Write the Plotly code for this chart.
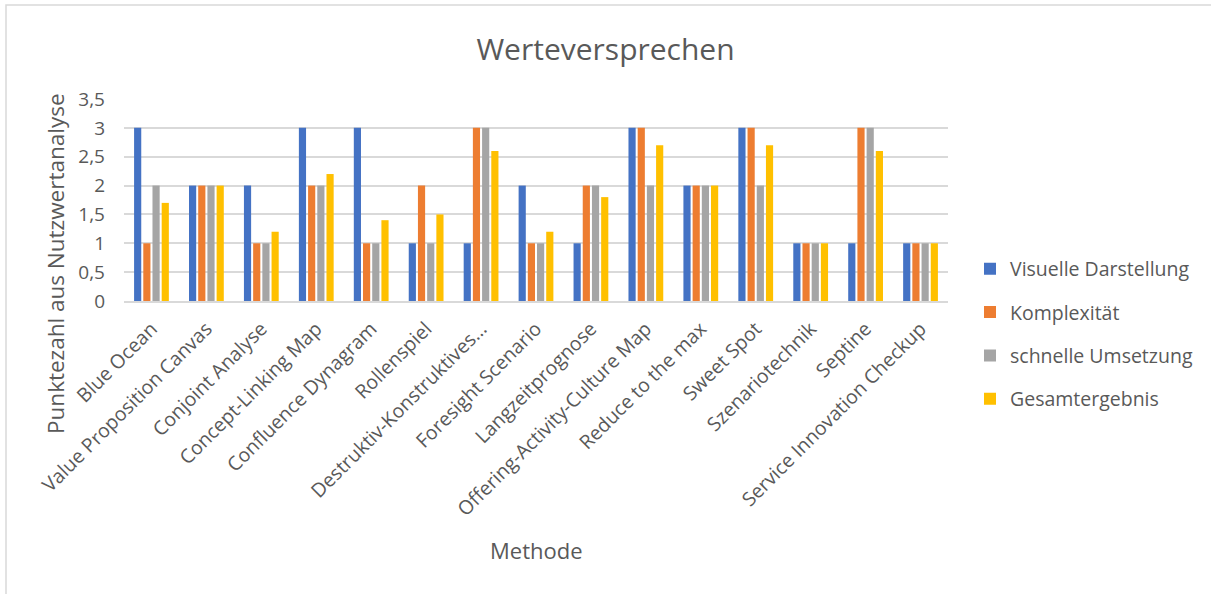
import plotly.graph_objects as go

# Methoden (Kategorien der x-Achse)
methoden = [
    "Blue Ocean", "Value Proposition Canvas", "Conjoint Analyse", "Concept-Linking Map",
    "Confluence Dynagram", "Rollenspiel", "Destruktiv-Konstruktives…", "Foresight Scenario",
    "Langzeitprognose", "Offering-Activity-Culture Map", "Reduce to the max", "Sweet Spot",
    "Szenariotechnik", "Septine", "Service Innovation Checkup",
]

visuelle_darstellung = [3, 2, 2, 3, 3, 1, 1, 2, 1, 3, 2, 3, 1, 1, 1]
komplexitaet = [1, 2, 1, 2, 1, 2, 3, 1, 2, 3, 2, 3, 1, 3, 1]
schnelle_umsetzung = [2, 2, 1, 2, 1, 1, 3, 1, 2, 2, 2, 2, 1, 3, 1]
gesamtergebnis = [1.7, 2, 1.2, 2.2, 1.4, 1.5, 2.6, 1.2, 1.8, 2.7, 2, 2.7, 1, 2.6, 1]

y_ticks = [0, 0.5, 1, 1.5, 2, 2.5, 3, 3.5]
y_ticktext = ["0", "0,5", "1", "1,5", "2", "2,5", "3", "3,5"]

serien = [
    ("Visuelle Darstellung", visuelle_darstellung, "#4472C4"),
    ("Komplexität", komplexitaet, "#ED7D31"),
    ("schnelle Umsetzung", schnelle_umsetzung, "#A5A5A5"),
    ("Gesamtergebnis", gesamtergebnis, "#FFC000"),
]

FONT = "'Open Sans', sans-serif"
GRAU = "#595959"

fig = go.Figure()
for name, werte, farbe in serien:
    fig.add_trace(go.Bar(name=name, x=methoden, y=werte, marker_color=farbe,
                         marker_line_width=0, legendgroup=name))

# Plotbereich in Pixeln
W, H = 1211, 594
L, R, T, B = 124, 948, 99, 301


def px_x(p):
    return (p - L) / (R - L)


def px_y(p):
    return (B - p) / (B - T)


fig.update_layout(
    width=W, height=H,
    margin=dict(l=L, r=W - R, t=T, b=H - B),
    paper_bgcolor="white", plot_bgcolor="white",
    barmode="group", bargap=0.33, bargroupgap=0.22,
    font=dict(family=FONT, color=GRAU),
    title=dict(text="Werteversprechen", x=0.5, xanchor="center",
               y=1 - 49 / H, yanchor="middle",
               font=dict(size=30, color=GRAU, family=FONT)),
    xaxis=dict(
        tickangle=-45, tickfont=dict(size=19.5, color=GRAU), showgrid=False,
        showline=True, linecolor="#D9D9D9", linewidth=1.5, ticks="",
        ticklabelstandoff=7,
    ),
    yaxis=dict(
        range=[0, 3.5], tickvals=y_ticks, ticktext=y_ticktext,
        tickfont=dict(size=19, color=GRAU), showgrid=True, gridcolor="#D9D9D9",
        gridwidth=1.5, zeroline=False, ticks="", ticklabelstandoff=18,
    ),
    legend=dict(x=px_x(970), y=px_y(334), xanchor="left", yanchor="middle",
                font=dict(size=19.5, color=GRAU), tracegroupgap=15,
                itemsizing="constant"),
    annotations=[
        dict(text="Methode", xref="paper", yref="paper", x=px_x(536), y=px_y(550),
             xanchor="center", yanchor="middle", showarrow=False,
             font=dict(size=22, color=GRAU)),
        dict(text="Punktezahl aus Nutzwertanalyse", xref="paper", yref="paper",
             x=px_x(55), y=px_y(264), xanchor="center", yanchor="middle",
             textangle=-90, showarrow=False, font=dict(size=22.5, color=GRAU)),
    ],
    shapes=[dict(type="rect", xref="paper", yref="paper",
                 x0=px_x(6), x1=px_x(1216), y0=px_y(600), y1=px_y(5),
                 line=dict(color="#D9D9D9", width=1.5), layer="below")],
)

fig.write_html("out.html")
